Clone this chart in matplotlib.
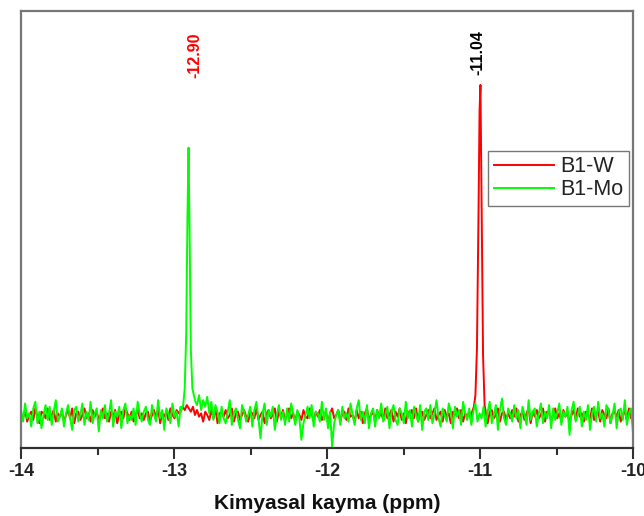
import numpy as np
import matplotlib.pyplot as plt

plt.rcParams['font.family'] = ['Liberation Sans', 'DejaVu Sans']
plt.rcParams['axes.unicode_minus'] = False

# ppm axis
x_min, x_max = -14.0, -10.0

# baseline noise (300 evenly spaced points from -14 to -10 ppm)
green_noise = [
    1.5, -2.0, 3.5, -1.0, 0.5, -3.5, 2.0, 4.0, -2.5, 1.0, -4.0, 0.0, 3.0, -1.5, 2.5, -3.0, 1.0, 4.5, -2.0, -0.5,
    2.0, -3.5, 0.5, 3.0, -1.0, -4.5, 1.5, 2.5, -2.0, 0.0, 3.5, -3.0, 1.0, -1.5, 4.0, -2.5, 0.5, 2.0, -5.0, 1.5,
    -1.0, 3.0, -2.0, 0.5, 4.5, -3.5, 1.0, -0.5, 2.5, -4.0, 1.5, 3.5, -2.5, 0.0, -1.5, 2.0, -3.0, 4.0, 0.5, -2.0,
    1.0, 2.5, -1.5, -3.0, 3.0, 0.0, -2.0, 4.5, -1.0, 1.5, -4.5, 2.0, 0.5, -2.5, 3.5, -0.5, 1.0, -3.5, 2.5, -1.0,
    0.5, 3.0, -2.0, 1.5, 2.0, 5.0, 3.0, 6.0, 1.5, 4.5, 2.5, 5.5, 0.5, 4.0, -1.5, 3.0, 1.0, -2.5, 2.5, -1.0,
    -2.5, 1.0, 4.5, -3.0, 0.5, 2.0, -1.5, -4.0, 3.0, 1.0, -2.0, 0.0, 2.5, -3.5, 1.5, 4.0, -1.0, -7.0, 0.5, 3.5,
    -3.0, 1.5, -0.5, 2.5, -4.5, 0.0, 3.0, -1.5, 1.0, -3.0, 2.0, -2.0, 3.5, 0.5, -3.0, 1.5, -1.0, -7.5, -2.5, 0.0,
    2.5, -1.0, 3.0, -3.5, 1.0, 0.5, -2.0, 4.0, -1.5, 2.0, -4.0, 1.0, -9.5, -2.5, 0.0, 1.5, -3.0, 2.5, -1.0, 0.5,
    -2.0, 3.5, 0.0, -3.0, 2.0, 4.5, -1.5, 1.0, -2.5, 3.0, -4.0, 0.5, 2.0, -3.5, 1.5, -1.0, 3.5, -2.0, 0.0, 2.5,
    -4.0, 1.0, 3.0, -1.5, -3.0, 2.0, 0.5, -2.5, 4.0, -1.0, 1.5, -3.5, 2.5, 0.0, -2.0, 3.0, -4.5, 1.0, 2.0, -1.5,
    3.0, -2.5, 0.5, 4.5, -1.0, -3.5, 2.0, 0.0, -2.0, 3.5, 1.0, -4.0, 2.5, -0.5, 1.5, -3.0, 4.0, 0.5, -1.5, 2.0,
    -3.0, 1.0, 3.5, -2.0, 0.5, -1.0, 2.5, -3.5, 1.0, 4.0, -2.5, 0.0, 3.0, -4.5, 1.5, 5.0, -1.0, -3.0, 2.0, 0.5,
    -2.0, 3.0, -1.0, 1.5, -4.0, 2.5, 0.0, -3.0, 4.5, -1.5, 1.0, 2.0, -3.5, 0.5, 3.5, -2.5, 1.0, -1.0, 3.0, -4.0,
    2.0, -1.5, 0.5, 3.5, -3.0, 1.0, -0.5, 2.5, -6.0, 1.5, 4.0, -2.0, 0.0, 2.5, -3.5, 1.0, -1.5, 3.0, -4.5, 0.5,
    2.5, -2.0, 4.0, -1.0, 0.5, -3.5, 3.0, 1.5, -2.5, 0.0, 3.5, -4.0, 1.0, 2.0, -1.5, 4.5, -3.0, 0.5, 2.0, -5.5,
]
red_noise = [
    0.5, -1.0, 1.5, -2.0, 0.0, 1.0, -1.5, 2.0, -0.5, -2.5, 1.0, 0.5, -1.0, 2.0, -1.5, 0.0, 1.5, -2.0, 0.5, -0.5,
    1.0, -2.0, 0.0, 1.5, -1.0, 2.0, -2.5, 0.5, 1.0, -1.5, 0.0, 2.0, -1.0, 0.5, -2.0, 1.5, -0.5, 1.0, -1.5, 0.0,
    2.0, -1.0, 0.5, -2.0, 1.0, -0.5, 1.5, -2.5, 0.0, 1.0, -1.0, 2.0, 0.5, -1.5, 1.0, -2.0, 0.0, 1.5, -1.0, 0.5,
    -1.5, 0.5, 1.0, -2.0, 0.0, 1.5, -1.0, 2.0, -2.5, 0.5, -0.5, 1.0, -1.5, 2.0, 0.0, -1.0, 1.5, 0.5, 1.5, 2.5,
    1.5, 3.0, 2.0, 1.0, 2.5, 0.0, 1.5, -0.5, 0.5, -2.0, 1.0, 0.0, -1.5, 1.5, -1.0, 2.0, -2.5, 0.5, 1.0, -0.5,
    1.5, -1.0, 0.0, 2.0, -2.0, 0.5, 1.0, -1.5, 0.0, 1.5, -0.5, -2.0, 1.0, 0.5, -1.0, 2.0, -1.5, 0.0, 1.0, -2.5,
    0.5, 1.5, -1.0, 0.0, 2.0, -2.0, 1.0, -0.5, 1.5, -1.5, 0.0, 2.0, -1.0, 0.5, -2.0, 1.0, 0.0, -1.5, 1.5, -0.5,
    -1.0, 2.0, 0.5, -2.0, 1.0, -0.5, 1.5, -1.5, 0.0, 1.0, -2.5, 0.5, 2.0, -1.0, 0.0, 1.5, -2.0, 0.5, 1.0, -1.5,
    2.0, -0.5, 0.0, -2.0, 1.5, -1.0, 1.0, -2.5, 0.5, 2.0, -1.5, 0.0, 1.0, -2.0, 1.5, -0.5, 0.5, -1.5, 2.0, -1.0,
    0.0, 1.5, -2.0, 1.0, -0.5, 2.0, -1.5, 0.5, -2.5, 1.0, 0.0, 1.5, -1.0, 2.0, -2.0, 0.5, 1.0, -1.5, 0.0, 1.5,
    -1.0, 0.5, 2.0, -1.5, 0.0, 1.0, -2.0, 1.5, -0.5, 0.5, -2.5, 1.0, 0.0, 2.0, -1.0, 1.5, -2.0, 0.5, -0.5, 1.0,
    -2.0, 1.0, 0.0, 1.5, -1.5, 2.0, -0.5, 0.5, -2.5, 1.0, 1.5, -1.0, 0.0, 2.0, -2.0, 0.5, 1.0, -1.5, 0.5, -1.0,
    1.5, -0.5, 2.0, -2.0, 0.0, 1.0, -1.5, 0.5, 2.0, -2.5, 1.0, -0.5, 1.5, -1.0, 0.0, 2.0, -2.0, 1.0, 0.5, -1.5,
    0.0, 2.0, -1.0, 0.5, -2.0, 1.5, -0.5, 1.0, -2.5, 0.0, 1.5, -1.5, 2.0, -0.5, 0.5, -2.0, 1.0, 0.0, -1.0, 2.0,
    -1.5, 0.5, 1.0, -2.0, 1.5, 0.0, -1.0, 2.0, -2.5, 0.5, 1.0, -0.5, 1.5, -2.0, 0.0, 1.0, -1.5, 2.0, -1.0, 0.5,
]

# peak points
green_pk_x = [-12.955, -12.94, -12.93, -12.92, -12.912, -12.905, -12.898, -12.89, -12.88, -12.87, -12.86]
green_pk_y = [1.0, 3.0, 8.0, 25.0, 60.0, 81.0, 55.0, 20.0, 8.0, 6.0, 4.0]
red_pk_x = [-11.055, -11.04, -11.03, -11.02, -11.01, -11.003, -10.997, -10.99, -10.98, -10.97, -10.955]
red_pk_y = [0.5, 2.5, 6.0, 20.0, 60.0, 92.0, 100.0, 65.0, 18.0, 3.0, -1.0]

labels = ["B1-W", "B1-Mo"]
peak_labels = ["-12.90", "-11.04"]


def build(noise, pk_x, pk_y):
    xs = np.linspace(x_min, x_max, len(noise))
    ys = np.array(noise)
    keep = (xs < min(pk_x)) | (xs > max(pk_x))
    xx = np.concatenate([xs[keep], pk_x])
    yy = np.concatenate([ys[keep], pk_y])
    order = np.argsort(xx)
    return xx[order], yy[order]


rx, ry = build(red_noise, red_pk_x, red_pk_y)
gx, gy = build(green_noise, green_pk_x, green_pk_y)

fig = plt.figure(figsize=(6.44, 5.16), dpi=100)
ax = fig.add_axes([21/644, 1 - 448/516, 612/644, 437/516])

ax.plot(rx, ry, color='#ff0000', lw=1.4, label=labels[0])
ax.plot(gx, gy, color='#00ff00', lw=1.4, label=labels[1])

ax.set_xlim(x_min, x_max)
ax.set_ylim(-10, 122.4)
ax.set_yticks([])
ax.set_xticks(np.arange(-14, -9.5, 1))
ax.set_xticks(np.arange(-13.5, -10, 1), minor=True)
ax.tick_params(axis='x', which='major', length=8, width=1.5, labelsize=13, pad=3, color='#303030')
ax.tick_params(axis='x', which='minor', length=5, width=1.5, color='#303030')
for t in ax.get_xticklabels():
    t.set_fontweight('bold')
    t.set_color('#222222')
for s in ax.spines.values():
    s.set_color('#777777')
    s.set_linewidth(1.6)
ax.spines['bottom'].set_color('#303030')

ax.set_xlabel("Kimyasal kayma (ppm)", fontsize=15, fontweight='bold', labelpad=10, color='#111111')

ax.text(-12.865, 102, peak_labels[0], rotation=90, color='#ff0000', fontsize=11.5,
        fontweight='bold', ha='center', va='bottom')
ax.text(-11.013, 103, peak_labels[1], rotation=90, color='black', fontsize=11.5,
        fontweight='bold', ha='center', va='bottom')

leg = ax.legend(loc='upper right', bbox_to_anchor=(0.9935, 0.680), borderaxespad=0,
                fontsize=15.5, fancybox=False, framealpha=1, edgecolor='#777777',
                handlelength=2.8, handletextpad=0.3, labelspacing=0.1, borderpad=0.25)
leg.get_frame().set_linewidth(1.0)
for t in leg.get_texts():
    t.set_color('#222222')

fig.savefig('out.png', dpi=100)
